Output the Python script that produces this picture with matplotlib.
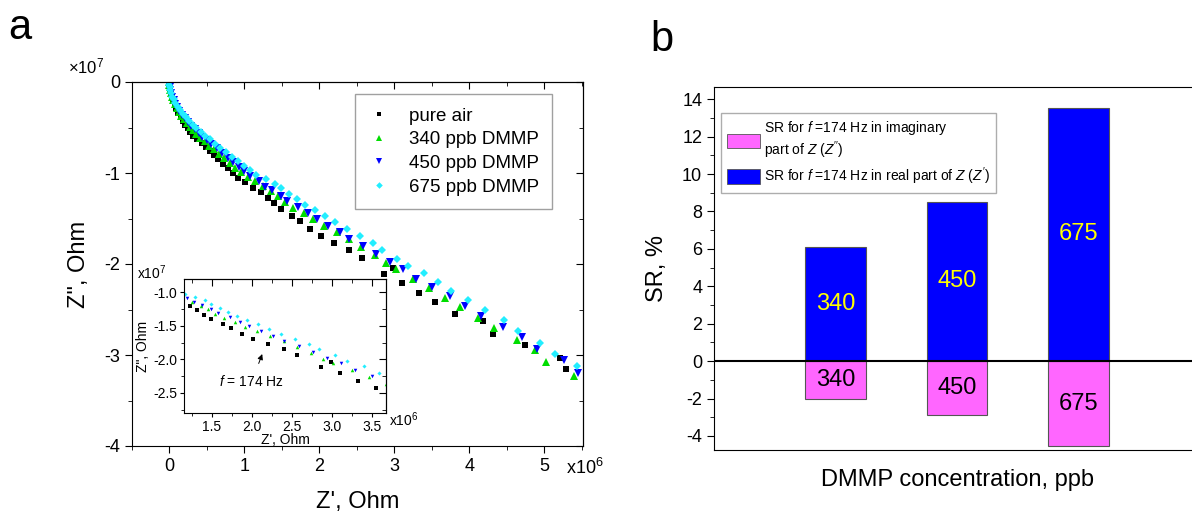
#!/usr/bin/env python3
"""
Impedance spectra under DMMP (a) and sensor response bars (b)
"""

import numpy as np
import matplotlib
matplotlib.use("Agg")
import matplotlib.pyplot as plt
from matplotlib.ticker import MultipleLocator
from matplotlib.patches import Patch

plt.rcParams['font.family'] = ['Liberation Sans', 'DejaVu Sans']
plt.rcParams['axes.unicode_minus'] = False
plt.rcParams['mathtext.fontset'] = 'custom'
plt.rcParams['mathtext.it'] = 'Liberation Sans:italic'
plt.rcParams['mathtext.rm'] = 'Liberation Sans'

# ---- panel a data: Z' in units of 1e6 Ohm, Z'' in units of 1e7 Ohm ----
air_re = [0.0, 0.0, 0.005, 0.01, 0.02, 0.03, 0.05, 0.07, 0.09, 0.12, 0.15, 0.18, 0.21, 0.25,
          0.28, 0.32, 0.37, 0.43, 0.49, 0.54, 0.59, 0.65, 0.71, 0.78, 0.85, 0.92, 1.01, 1.12,
          1.22, 1.31, 1.40, 1.49, 1.64, 1.74, 1.88, 2.02, 2.20, 2.40, 2.57, 2.87, 2.99, 3.11,
          3.33, 3.55, 3.81, 4.18, 4.32, 4.74, 5.21, 5.29]
air_im = [0.0, -0.03, -0.06, -0.09, -0.12, -0.16, -0.20, -0.25, -0.29, -0.34, -0.39, -0.43,
          -0.47, -0.51, -0.55, -0.59, -0.63, -0.67, -0.71, -0.76, -0.80, -0.85, -0.90, -0.95,
          -1.00, -1.05, -1.10, -1.16, -1.21, -1.27, -1.33, -1.40, -1.47, -1.53, -1.62, -1.69,
          -1.77, -1.85, -1.93, -2.11, -2.04, -2.21, -2.32, -2.42, -2.55, -2.63, -2.77, -2.89,
          -3.03, -3.15]

d340_re = [0.0, 0.0, 0.005, 0.01, 0.02, 0.035, 0.05, 0.07, 0.10, 0.13, 0.16, 0.19, 0.23, 0.27,
           0.31, 0.36, 0.41, 0.47, 0.53, 0.59, 0.66, 0.73, 0.81, 0.88, 0.96, 1.05, 1.14, 1.25,
           1.36, 1.45, 1.54, 1.65, 1.79, 1.91, 2.06, 2.23, 2.40, 2.56, 2.74, 2.89, 3.02, 3.25,
           3.47, 3.68, 3.88, 4.12, 4.33, 4.64, 4.88, 5.02, 5.40]
d340_im = [0.0, -0.03, -0.06, -0.09, -0.12, -0.16, -0.20, -0.24, -0.29, -0.33, -0.37, -0.41,
           -0.45, -0.49, -0.53, -0.57, -0.61, -0.65, -0.70, -0.74, -0.79, -0.84, -0.89, -0.94,
           -0.99, -1.04, -1.09, -1.14, -1.20, -1.25, -1.32, -1.38, -1.44, -1.51, -1.58, -1.65,
           -1.73, -1.81, -1.90, -1.99, -2.06, -2.16, -2.26, -2.37, -2.47, -2.59, -2.70, -2.83,
           -2.95, -3.08, -3.23]

d450_re = [0.0, 0.0, 0.005, 0.012, 0.022, 0.037, 0.055, 0.075, 0.10, 0.13, 0.17, 0.21, 0.25,
           0.29, 0.34, 0.39, 0.44, 0.50, 0.56, 0.63, 0.70, 0.78, 0.85, 0.93, 1.00, 1.08, 1.19,
           1.28, 1.37, 1.49, 1.57, 1.72, 1.85, 1.97, 2.11, 2.27, 2.40, 2.59, 2.76, 2.94, 3.12,
           3.29, 3.50, 3.75, 3.95, 4.16, 4.45, 4.71, 4.91, 5.27, 5.45]
d450_im = [0.0, -0.03, -0.06, -0.09, -0.12, -0.16, -0.20, -0.24, -0.28, -0.32, -0.36, -0.40,
           -0.44, -0.48, -0.52, -0.56, -0.60, -0.64, -0.68, -0.73, -0.78, -0.83, -0.88, -0.93,
           -0.98, -1.03, -1.09, -1.15, -1.19, -1.25, -1.31, -1.37, -1.44, -1.50, -1.58, -1.65,
           -1.73, -1.80, -1.89, -1.98, -2.06, -2.16, -2.25, -2.35, -2.46, -2.57, -2.69, -2.80,
           -2.93, -3.05, -3.20]

d675_re = [0.0, 0.0, 0.005, 0.012, 0.025, 0.04, 0.06, 0.08, 0.11, 0.14, 0.18, 0.22, 0.26, 0.31,
           0.36, 0.42, 0.48, 0.54, 0.61, 0.68, 0.76, 0.84, 0.92, 1.00, 1.08, 1.16, 1.29, 1.41,
           1.49, 1.60, 1.70, 1.81, 1.94, 2.08, 2.21, 2.37, 2.54, 2.72, 2.84, 3.04, 3.19, 3.40,
           3.59, 3.76, 3.98, 4.21, 4.46, 4.65, 4.94, 5.15, 5.44]
d675_im = [0.0, -0.03, -0.06, -0.09, -0.12, -0.16, -0.19, -0.23, -0.27, -0.31, -0.35, -0.39,
           -0.43, -0.47, -0.51, -0.55, -0.59, -0.63, -0.68, -0.72, -0.77, -0.82, -0.87, -0.92,
           -0.97, -1.02, -1.07, -1.12, -1.17, -1.23, -1.29, -1.35, -1.41, -1.47, -1.54, -1.62,
           -1.69, -1.77, -1.85, -1.94, -2.02, -2.10, -2.20, -2.30, -2.40, -2.51, -2.62, -2.74,
           -2.87, -2.99, -3.12]

series_labels = ["pure air", "340 ppb DMMP", "450 ppb DMMP", "675 ppb DMMP"]

# ---- panel b data ----
concentrations = ["340", "450", "675"]
sr_real = [6.12, 8.53, 13.54]
sr_imag = [-2.01, -2.89, -4.54]


def style_ticks(ax, xmaj, xmin, ymaj, ymin, size=13):
    ax.xaxis.set_major_locator(MultipleLocator(xmaj))
    ax.xaxis.set_minor_locator(MultipleLocator(xmin))
    ax.yaxis.set_major_locator(MultipleLocator(ymaj))
    ax.yaxis.set_minor_locator(MultipleLocator(ymin))
    ax.tick_params(which='both', direction='out', labelsize=size)
    ax.tick_params(which='major', length=5)
    ax.tick_params(which='minor', length=3)
    # mirrored ticks pointing inwards on top and right
    top = ax.secondary_xaxis('top')
    top.xaxis.set_major_locator(MultipleLocator(xmaj))
    top.xaxis.set_minor_locator(MultipleLocator(xmin))
    top.tick_params(which='both', direction='in', labeltop=False)
    top.tick_params(which='major', length=5)
    top.tick_params(which='minor', length=3)
    right = ax.secondary_yaxis('right')
    right.yaxis.set_major_locator(MultipleLocator(ymaj))
    right.yaxis.set_minor_locator(MultipleLocator(ymin))
    right.tick_params(which='both', direction='in', labelright=False)
    right.tick_params(which='major', length=5)
    right.tick_params(which='minor', length=3)


def plot_series(ax, ms):
    ax.plot(air_re, air_im, 's', color='black', ms=ms, mew=0, label=series_labels[0])
    ax.plot(d340_re, d340_im, '^', color='#00dd00', ms=ms * 1.15, mew=0, label=series_labels[1])
    ax.plot(d450_re, d450_im, 'v', color='#0000ff', ms=ms * 1.15, mew=0, label=series_labels[2])
    ax.plot(d675_re, d675_im, 'D', color='#22eeff', ms=ms * 0.95, mew=0, label=series_labels[3])


fig = plt.figure(figsize=(11.92, 5.13), dpi=100)

# ---------------- panel a ----------------
ax = fig.add_axes([132 / 1192, 1 - 446 / 513, 451 / 1192, 364 / 513])
plot_series(ax, 4.4)
ax.set_xlim(-0.5, 5.52)
ax.set_ylim(-4, 0)
style_ticks(ax, 1, 0.5, 1, 0.5)
ax.set_xlabel("Z', Ohm", fontsize=17, labelpad=12)
ax.set_ylabel('Z", Ohm', fontsize=17, labelpad=10)
leg = ax.legend(loc='upper left', bbox_to_anchor=(0.494, 0.966), fontsize=13.5,
                frameon=True, fancybox=False, edgecolor='#888888', markerscale=0.8,
                handlelength=1.2, handletextpad=1.0, labelspacing=0.35,
                borderpad=0.7, borderaxespad=0)
leg.get_frame().set_linewidth(1.0)
fig.text(68 / 1192, 1 - 66 / 513, r"$\times$10$^{7}$", fontsize=12, va='center')
fig.text(566 / 1192, 1 - 468 / 513, r"x10$^{6}$", fontsize=13, va='center')
fig.text(8 / 1192, 1 - 28 / 513, "a", fontsize=30, va='center')

# inset
ins = fig.add_axes([184 / 1192, 1 - 413 / 513, 202 / 1192, 134 / 513])
plot_series(ins, 2.2)
ins.set_xlim(1.15, 3.68)
ins.set_ylim(-2.8, -0.8)
ins.xaxis.set_major_formatter(matplotlib.ticker.FormatStrFormatter('%.1f'))
ins.yaxis.set_major_formatter(matplotlib.ticker.FormatStrFormatter('%.1f'))
style_ticks(ins, 0.5, 0.25, 0.5, 0.25, size=10)
ins.tick_params(which='major', length=3, pad=2)
ins.tick_params(which='minor', length=2)
ins.set_xlabel("Z', Ohm", fontsize=10, labelpad=-1)
ins.set_ylabel('Z", Ohm', fontsize=10, labelpad=2)
ins.annotate("$f$ = 174 Hz", xy=(2.13, -1.92), xytext=(2.0, -2.33), fontsize=10,
             ha='center', va='center',
             arrowprops=dict(arrowstyle='-|>', color='black', lw=0.7, mutation_scale=8,
                             shrinkA=6, shrinkB=0))
fig.text(137 / 1192, 1 - 273 / 513, r"x10$^{7}$", fontsize=10, va='center')
fig.text(389 / 1192, 1 - 420 / 513, r"x10$^{6}$", fontsize=10, va='center')

# ---------------- panel b ----------------
bx = fig.add_axes([714 / 1192, 1 - 450 / 513, 486 / 1192, 363 / 513])
pos = np.arange(1, len(concentrations) + 1)
bx.bar(pos, sr_real, width=0.5, color='#0000ff', edgecolor='#555555', linewidth=0.8)
bx.bar(pos, sr_imag, width=0.5, color='#ff66ff', edgecolor='#555555', linewidth=0.8)
bx.axhline(0, color='black', lw=1.5)
for p, c, hi, lo in zip(pos, concentrations, sr_real, sr_imag):
    bx.text(p, hi / 2, c, color='#ffff00', fontsize=17, ha='center', va='center')
    bx.text(p, lo / 2, c, color='black', fontsize=17, ha='center', va='center')
bx.set_xlim(0, 4)
bx.set_ylim(-4.75, 14.65)
bx.yaxis.set_major_locator(MultipleLocator(2))
bx.yaxis.set_minor_locator(MultipleLocator(1))
bx.tick_params(axis='y', which='both', direction='out', labelsize=13)
bx.tick_params(axis='y', which='major', length=5)
bx.tick_params(axis='y', which='minor', length=3)
bx.tick_params(axis='x', which='both', bottom=False, labelbottom=False)
bright = bx.secondary_yaxis('right')
bright.yaxis.set_major_locator(MultipleLocator(2))
bright.yaxis.set_minor_locator(MultipleLocator(1))
bright.tick_params(which='both', direction='in', labelright=False)
bx.set_ylabel("SR, %", fontsize=17, labelpad=10)
bx.set_xlabel("DMMP concentration, ppb", fontsize=17, labelpad=14)
handles = [Patch(facecolor='#ff66ff', edgecolor='#555555', lw=0.6),
           Patch(facecolor='#0000ff', edgecolor='#555555', lw=0.6)]
labels = ["SR for $f$ =174 Hz in imaginary\npart of $Z$ ($Z''$)",
          "SR for $f$ =174 Hz in real part of $Z$ ($Z'$)"]
bleg = bx.legend(handles, labels, loc='upper left', bbox_to_anchor=(0.0144, 0.928),
                 fontsize=10, frameon=True, fancybox=False, edgecolor='#999999',
                 handlelength=2.4, handleheight=1.2, handletextpad=0.3,
                 labelspacing=0.3, borderpad=0.4, borderaxespad=0)
fig.text(650 / 1192, 1 - 40 / 513, "b", fontsize=30, va='center')

fig.savefig("out.png", dpi=100)
